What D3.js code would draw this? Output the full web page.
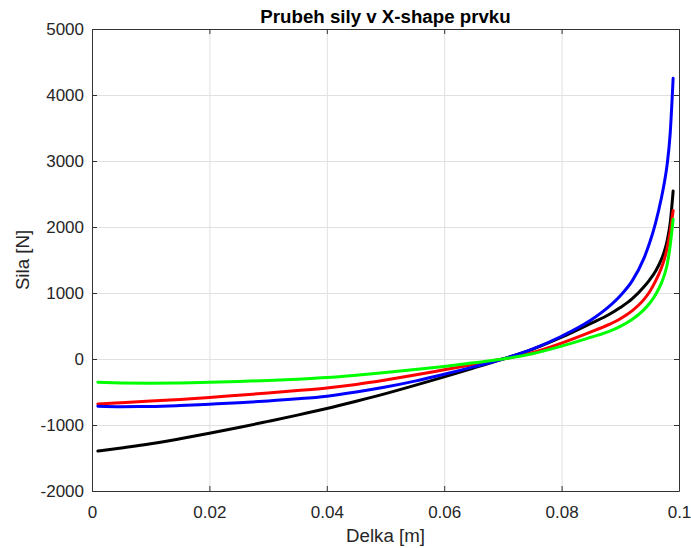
<!DOCTYPE html>
<html>
<head>
<meta charset="utf-8">
<script src="https://cdn.jsdelivr.net/npm/d3@7"></script>
<style>
  html, body { margin: 0; padding: 0; background: #fff; }
  svg { display: block; }
  text { font-family: "Liberation Sans", Arial, Helvetica, sans-serif; }
</style>
</head>
<body>
<svg id="chart" width="691" height="548"></svg>
<script>
// Displacement along the element [m]
const delka = [0.001, 0.005, 0.01, 0.015, 0.02, 0.025, 0.03, 0.035, 0.04, 0.045,
  0.05, 0.055, 0.06, 0.065, 0.07, 0.075, 0.08, 0.085, 0.088, 0.09,
  0.092, 0.094, 0.095, 0.096, 0.097, 0.0975, 0.098, 0.0985, 0.099];

// Force curves [N]
const silaBlack = [-1395, -1348, -1285, -1208, -1125, -1038, -945, -850, -750, -640,
  -525, -400, -270, -137, 0, 146, 330, 540, 670, 780,
  910, 1090, 1200, 1330, 1510, 1630, 1800, 2060, 2545];
const silaRed = [-682, -662, -638, -612, -582, -549, -515, -478, -438, -385,
  -318, -243, -163, -82, 0, 95, 240, 410, 520, 610,
  730, 900, 1020, 1180, 1380, 1510, 1690, 1930, 2250];
const silaBlue = [-715, -722, -720, -706, -684, -662, -636, -604, -563, -500,
  -425, -335, -232, -120, 0, 150, 345, 590, 790, 960,
  1180, 1520, 1760, 2060, 2440, 2670, 2960, 3420, 4253];
const silaGreen = [-353, -362, -366, -362, -352, -340, -325, -305, -280, -245,
  -205, -160, -112, -58, 0, 80, 195, 330, 415, 495,
  600, 745, 845, 975, 1150, 1270, 1440, 1720, 2116];

const seriesColors = ["#000000", "#ff0000", "#0000ff", "#00ff00"];

const xTicks = [0, 0.02, 0.04, 0.06, 0.08, 0.1];
const xTickLabels = ["0", "0.02", "0.04", "0.06", "0.08", "0.1"];
const yTicks = [-2000, -1000, 0, 1000, 2000, 3000, 4000, 5000];
const yTickLabels = ["-2000", "-1000", "0", "1000", "2000", "3000", "4000", "5000"];

const titleText = "Prubeh sily v X-shape prvku";
const xLabelText = "Delka [m]";
const yLabelText = "Sila [N]";

// Layout
const plot = { left: 92, right: 679, top: 29, bottom: 491 };
const W = plot.right - plot.left, H = plot.bottom - plot.top;
const axisColor = "#333333", textColor = "#262626", gridColor = "#e0e0e0";
const tickFont = "17px", labelFont = "18.7px";

const svg = d3.select("#chart");
const x = d3.scaleLinear().domain([0, 0.1]).range([plot.left, plot.right]);
const y = d3.scaleLinear().domain([-2000, 5000]).range([plot.bottom, plot.top]);

// Grid
const grid = svg.append("g");
grid.append("g")
  .attr("transform", `translate(0,${plot.bottom})`)
  .call(d3.axisBottom(x).tickValues(xTicks).tickSize(-H).tickFormat(""))
  .call(g => g.select(".domain").remove())
  .call(g => g.selectAll("line").attr("stroke", gridColor).attr("stroke-width", 1));
grid.append("g")
  .attr("transform", `translate(${plot.left},0)`)
  .call(d3.axisLeft(y).tickValues(yTicks).tickSize(-W).tickFormat(""))
  .call(g => g.select(".domain").remove())
  .call(g => g.selectAll("line").attr("stroke", gridColor).attr("stroke-width", 1));

// Curves
const line = d3.line()
  .x(d => x(d[0]))
  .y(d => y(d[1]))
  .curve(d3.curveMonotoneX);

const series = [silaBlack, silaRed, silaBlue, silaGreen];
svg.append("g")
  .selectAll("path")
  .data(series)
  .join("path")
  .attr("d", s => line(delka.map((v, i) => [v, s[i]])))
  .attr("fill", "none")
  .attr("stroke", (s, i) => seriesColors[i])
  .attr("stroke-width", 3)
  .attr("stroke-linejoin", "round")
  .attr("stroke-linecap", "round");

// Axes (box with inward ticks)
function styleAxis(g) {
  g.select(".domain").attr("stroke", axisColor).attr("stroke-width", 1);
  g.selectAll(".tick line").attr("stroke", axisColor).attr("stroke-width", 1);
  g.selectAll(".tick text").attr("fill", textColor).style("font-size", tickFont);
}
svg.append("g")
  .attr("transform", `translate(0,${plot.bottom})`)
  .call(d3.axisBottom(x).tickValues(xTicks).tickFormat((d, i) => xTickLabels[i])
    .tickSizeInner(-5).tickSizeOuter(0).tickPadding(14.5))
  .call(styleAxis);
svg.append("g")
  .attr("transform", `translate(0,${plot.top})`)
  .call(d3.axisTop(x).tickValues(xTicks).tickFormat("").tickSizeInner(-5).tickSizeOuter(0))
  .call(styleAxis);
svg.append("g")
  .attr("transform", `translate(${plot.left},0)`)
  .call(d3.axisLeft(y).tickValues(yTicks).tickFormat((d, i) => yTickLabels[i])
    .tickSizeInner(-5).tickSizeOuter(0).tickPadding(8))
  .call(styleAxis);
svg.append("g")
  .attr("transform", `translate(${plot.right},0)`)
  .call(d3.axisRight(y).tickValues(yTicks).tickFormat("").tickSizeInner(-5).tickSizeOuter(0))
  .call(styleAxis);

// Title and axis labels
svg.append("text")
  .attr("x", (plot.left + plot.right) / 2)
  .attr("y", 23)
  .attr("text-anchor", "middle")
  .attr("fill", "#000")
  .style("font-size", labelFont)
  .style("font-weight", "bold")
  .text(titleText);
svg.append("text")
  .attr("x", (plot.left + plot.right) / 2)
  .attr("y", 542)
  .attr("text-anchor", "middle")
  .attr("fill", textColor)
  .style("font-size", labelFont)
  .text(xLabelText);
svg.append("text")
  .attr("transform", `translate(29,${(plot.top + plot.bottom) / 2}) rotate(-90)`)
  .attr("text-anchor", "middle")
  .attr("fill", textColor)
  .style("font-size", labelFont)
  .text(yLabelText);
</script>
</body>
</html>
